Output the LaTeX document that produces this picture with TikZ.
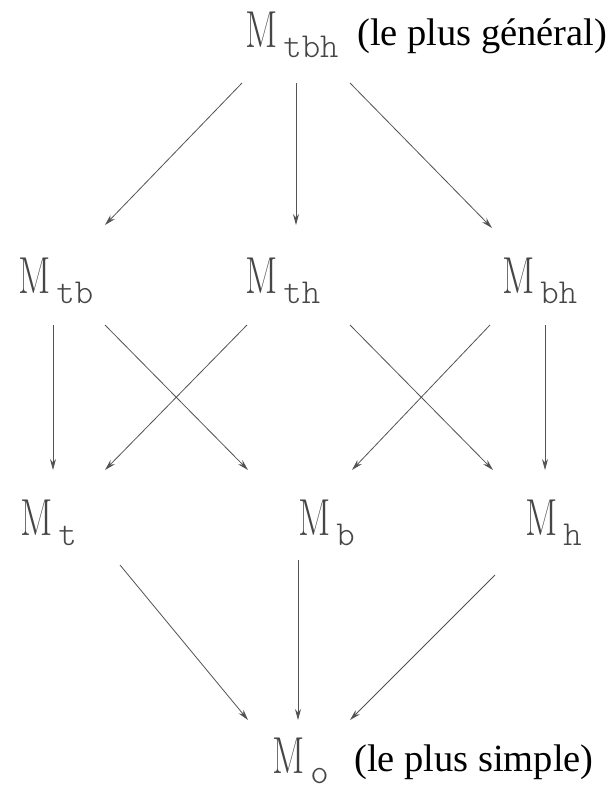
\documentclass[tikz,border=0pt]{standalone}
\usepackage{fontspec}
\newfontfamily\timesf{Liberation Serif}
\usetikzlibrary{arrows.meta,calc}
\newcommand{\Mlab}[1]{\scalebox{0.73}[1]{\fontsize{52}{52}\selectfont M}\kern6pt\raisebox{-10pt}{\fontsize{35}{35}\ttfamily\fontseries{l}\selectfont #1}}
\begin{document}
\begin{tikzpicture}[x=1pt,y=-1pt,
  ml/.style={anchor=base west, inner sep=0pt, text=gray!55!black},
  note/.style={anchor=base west, inner sep=0pt, font=\timesf\fontsize{38.5}{40}\selectfont},
  arr/.style={draw=gray!65!black, line width=0.8pt, -{Stealth[length=11pt,width=6pt]}}]
\useasboundingbox[fill=white] (0,0) rectangle (610,796);
\node[ml] (tbh) at (245,47) {\Mlab{tbh}};
\node[note] (gen) at (357,45) {(le plus général)};
\node[ml] (tb) at (18,293) {\Mlab{tb}};
\node[ml] (th) at (245,293) {\Mlab{th}};
\node[ml] (bh) at (502,293) {\Mlab{bh}};
\node[ml] (t) at (20,535) {\Mlab{t}};
\node[ml] (b) at (298,535) {\Mlab{b}};
\node[ml] (h) at (525,535) {\Mlab{h}};
\node[ml] (o) at (272,773) {\Mlab{o}};
\node[note] (sim) at (354,771) {(le plus simple)};
\draw[arr] ($(tbh.base west)+(-3,36)$) -- ($(tb.base west)+(87,-68)$);
\draw[arr] ($(tbh.base west)+(51,36)$) -- ($(th.base west)+(51,-68)$);
\draw[arr] ($(tbh.base west)+(105,36)$) -- ($(bh.base west)+(-10,-65)$);
\draw[arr] ($(tb.base west)+(35,32)$) -- ($(t.base west)+(33,-65)$);
\draw[arr] ($(tb.base west)+(87,32)$) -- ($(b.base west)+(-50,-65)$);
\draw[arr] ($(th.base west)+(2,32)$) -- ($(t.base west)+(85,-65)$);
\draw[arr] ($(th.base west)+(105,32)$) -- ($(h.base west)+(-32,-65)$);
\draw[arr] ($(bh.base west)+(-12,32)$) -- ($(b.base west)+(54,-65)$);
\draw[arr] ($(bh.base west)+(43,32)$) -- ($(h.base west)+(20,-65)$);
\draw[arr] ($(t.base west)+(100,30)$) -- ($(o.base west)+(-24,-53)$);
\draw[arr] ($(b.base west)+(0,25)$) -- ($(o.base west)+(26,-53)$);
\draw[arr] ($(h.base west)+(-30,40)$) -- ($(o.base west)+(78,-53)$);
\end{tikzpicture}
\end{document}
